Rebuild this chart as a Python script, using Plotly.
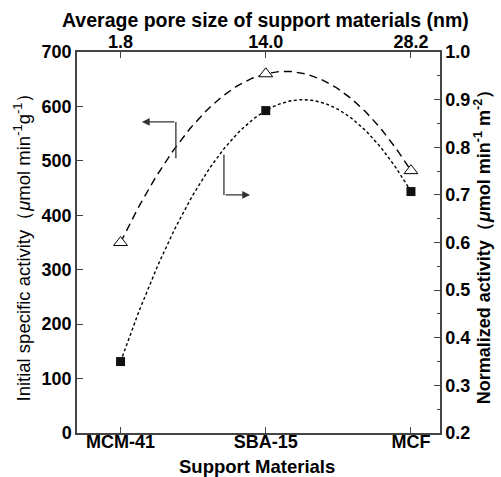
import numpy as np
import plotly.graph_objects as go

# ---- data ----
materials = ["MCM-41", "SBA-15", "MCF"]
pore_size_labels = ["1.8", "14.0", "28.2"]
initial_activity = [350, 660, 482]          # left axis, µmol min-1 g-1
normalized_activity = [0.35, 0.877, 0.707]  # right axis, µmol min-1 m-2

xpos = np.arange(len(materials))
xs = np.linspace(0, len(materials) - 1, 120)

# quadratic fits drawn through the measured points
fit_init = np.polyval(np.polyfit(xpos, initial_activity, 2), xs)
fit_norm = np.polyval(np.polyfit(xpos, normalized_activity, 2), xs)

FONT = "Liberation Sans, Arial, sans-serif"
AX = "#444444"

fig = go.Figure()

fig.add_trace(go.Scatter(x=xs, y=fit_init, mode="lines",
                         line=dict(color="black", width=1.4, dash="8px,5px"),
                         hoverinfo="skip", showlegend=False))
fig.add_trace(go.Scatter(x=xs, y=fit_norm, mode="lines", yaxis="y2",
                         line=dict(color="black", width=1.4, dash="3px,2.5px"),
                         hoverinfo="skip", showlegend=False))
fig.add_trace(go.Scatter(x=xpos, y=initial_activity, mode="markers",
                         marker=dict(symbol="triangle-up", size=12,
                                     color="white", line=dict(width=1, color="black")),
                         showlegend=False))
fig.add_trace(go.Scatter(x=xpos, y=normalized_activity, mode="markers", yaxis="y2",
                         marker=dict(symbol="square", size=9, color="#111111"),
                         showlegend=False))
# invisible trace to carry the top axis
fig.add_trace(go.Scatter(x=xpos, y=initial_activity, xaxis="x2", mode="markers",
                         marker=dict(opacity=0), hoverinfo="skip", showlegend=False))

tickfont = dict(family=FONT, size=18, color="black", weight="bold")
common = dict(showline=True, linecolor=AX, linewidth=1.5, ticks="inside",
              tickcolor=AX, tickwidth=1.2, ticklen=6, showgrid=False,
              zeroline=False, tickfont=tickfont, automargin=False)

fig.update_layout(
    width=501, height=477,
    margin=dict(l=77, r=61, t=52, b=44),
    plot_bgcolor="white", paper_bgcolor="white",
    xaxis=dict(range=[-0.3, 2.2], tickvals=list(xpos), ticktext=materials,
               ticklabelstandoff=-8, **common),
    xaxis2=dict(range=[-0.3, 2.2], overlaying="x", side="top", anchor="y",
                tickvals=list(xpos), ticktext=pore_size_labels, ticklabelstandoff=-5,
                **common),
    yaxis=dict(range=[0, 700], dtick=100,
               title=dict(text="Initial specific activity（<i>μ</i>mol min<sup>-1</sup>g<sup>-1</sup>）",
                          standoff=6,
                          font=dict(family=FONT, size=18.5, color="black")),
               **common),
    yaxis2=dict(range=[0.2, 1.0], dtick=0.1, tickformat=".1f", overlaying="y", side="right",
                anchor="x",
                minor=dict(dtick=0.05, ticks="inside", ticklen=3, tickcolor=AX),
                title=dict(text="Normalized activity（<i>μ</i>mol min<sup>-1</sup> m<sup>-2</sup>）",
                           standoff=8,
                           font=dict(family=FONT, size=18, color="black", weight="bold")),
                **common),
)

# axis titles for the top and bottom axes
fig.add_annotation(text="Average pore size of support materials (nm)", xref="paper", yref="paper",
                   x=0.52, y=1.084, xanchor="center", yanchor="middle", showarrow=False,
                   font=dict(family=FONT, size=19.5, color="black", weight="bold"))
fig.add_annotation(text="Support Materials", xref="paper", yref="paper",
                   x=0.497, y=-0.087, xanchor="center", yanchor="middle", showarrow=False,
                   font=dict(family=FONT, size=18.5, color="black", weight="bold"))

# bent arrows indicating which axis each curve belongs to
arrow_col = "#333333"
fig.add_shape(type="line", x0=0.381, y0=505, x1=0.381, y1=571.5,
              line=dict(color=arrow_col, width=1.3))
fig.add_annotation(x=0.147, y=571.5, ax=0.381, ay=571.5, axref="x", ayref="y",
                   xref="x", yref="y", text="", showarrow=True, arrowhead=2,
                   arrowsize=1.2, arrowwidth=1.3, arrowcolor=arrow_col)
fig.add_shape(type="line", x0=0.712, y0=511, x1=0.712, y1=437.5,
              line=dict(color=arrow_col, width=1.3))
fig.add_annotation(x=0.892, y=437.5, ax=0.712, ay=437.5, axref="x", ayref="y",
                   xref="x", yref="y", text="", showarrow=True, arrowhead=2,
                   arrowsize=1.2, arrowwidth=1.3, arrowcolor=arrow_col)

fig.write_html("out.html")
